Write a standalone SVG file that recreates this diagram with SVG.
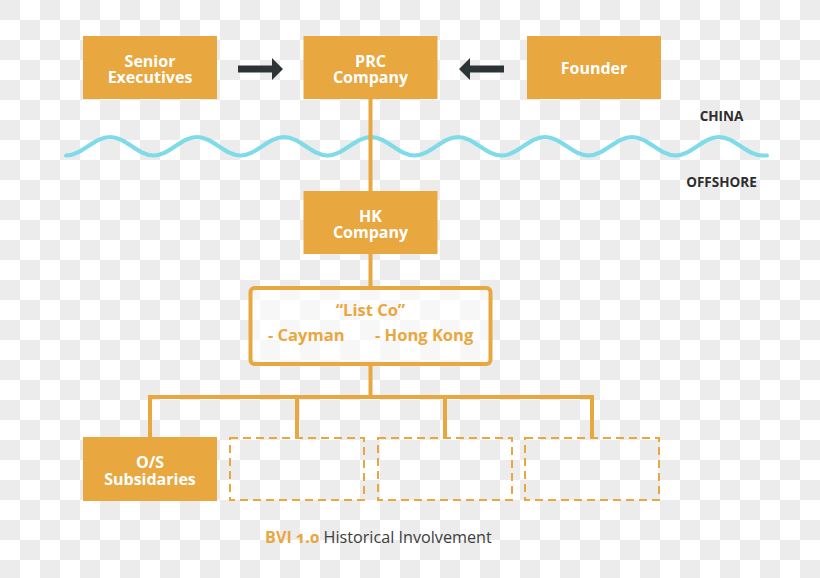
<svg xmlns="http://www.w3.org/2000/svg" width="820" height="578" viewBox="0 0 820 578">
  <defs>
    <pattern id="checker" x="0" y="0" width="40" height="40" patternUnits="userSpaceOnUse">
      <rect width="40" height="40" fill="#ffffff"/>
      <rect x="0" y="0" width="20" height="20" fill="#ececec"/>
      <rect x="20" y="20" width="20" height="20" fill="#ececec"/>
    </pattern>
    <style>
      .box { fill: #e9a73f; }
      .lbl { font-family: "Open Sans", "Noto Sans", "Liberation Sans", sans-serif; font-weight: 700; font-size: 16px; fill: #ffffff; text-anchor: middle; }
      .conn { stroke: #e9a73f; stroke-width: 4; fill: none; }
      .dash { fill: none; stroke: #e9a73f; stroke-width: 2; stroke-dasharray: 8 5; }
      .arrow { fill: #2b3336; }
      .region { font-family: "Open Sans", "Noto Sans", "Liberation Sans", sans-serif; font-weight: 700; font-size: 13.5px; fill: #2e2e2e; text-anchor: middle; }
      .orange { font-family: "Open Sans", "Noto Sans", "Liberation Sans", sans-serif; font-weight: 700; font-size: 16.5px; fill: #e9a73f; }
    </style>
  </defs>

  <rect width="820" height="578" fill="url(#checker)"/>

  <!-- river / border -->
  <path d="M66,155.5 C81.8,155.5 94.2,137 110,137 S137.8,155.5 153.5,155.5 S181.3,137 197,137 S224.8,155.5 240.5,155.5 S268.3,137 284,137 S311.8,155.5 327.5,155.5 S355.3,137 371,137 S398.8,155.5 414.5,155.5 S442.3,137 458,137 S485.8,155.5 501.5,155.5 S529.3,137 545,137 S572.8,155.5 588.5,155.5 S616.3,137 632,137 S659.8,155.5 675.5,155.5 S703.3,137 719,137 S746.8,155.5 762.5,155.5 L767,155.5" fill="none" stroke="#7fdbe8" stroke-width="4" stroke-linecap="round"/>

  <!-- connectors -->
  <g id="connectors">
    <line class="conn" x1="370.5" y1="99" x2="370.5" y2="192"/>
    <line class="conn" x1="370.5" y1="253" x2="370.5" y2="287"/>
    <line class="conn" x1="370.5" y1="365" x2="370.5" y2="397"/>
    <polyline class="conn" points="150,437 150,397 592,397 592,437"/>
    <line class="conn" x1="297" y1="397" x2="297" y2="437"/>
    <line class="conn" x1="445" y1="397" x2="445" y2="437"/>
    <polygon class="arrow" points="238,65.5 272,65.5 272,58 283,69 272,80 272,72.5 238,72.5"/>
    <polygon class="arrow" points="504,65.5 470,65.5 470,58 459,69 470,80 470,72.5 504,72.5"/>
  </g>

  <g id="senior-executives">
    <rect class="box" x="83" y="36" width="134" height="63"/>
    <text class="lbl" x="150" y="66.5">Senior</text>
    <text class="lbl" x="150" y="83">Executives</text>
  </g>

  <g id="prc-company">
    <rect class="box" x="303.5" y="36" width="134" height="63"/>
    <text class="lbl" x="370.5" y="66.5">PRC</text>
    <text class="lbl" x="370.5" y="83">Company</text>
  </g>

  <g id="founder">
    <rect class="box" x="527" y="36" width="134" height="63"/>
    <text class="lbl" x="594" y="74">Founder</text>
  </g>

  <g id="china-label">
    <text class="region" x="721.5" y="121">CHINA</text>
  </g>
  <g id="offshore-label">
    <text class="region" x="721.5" y="187">OFFSHORE</text>
  </g>

  <g id="hk-company">
    <rect class="box" x="303.5" y="191" width="134" height="63"/>
    <text class="lbl" x="370.5" y="221.5">HK</text>
    <text class="lbl" x="370.5" y="238">Company</text>
  </g>

  <g id="list-co">
    <rect x="250.5" y="288" width="240" height="76" rx="4" fill="#ffffff" fill-opacity="0.6" stroke="#e9a73f" stroke-width="4"/>
    <text class="orange" x="370.5" y="316" text-anchor="middle">“List Co”</text>
    <text class="orange" x="268" y="341">- Cayman</text>
    <text class="orange" x="375" y="341">- Hong Kong</text>
  </g>

  <g id="os-subsidiaries">
    <rect class="box" x="83" y="437" width="134" height="64"/>
    <text class="lbl" x="150" y="467.5">O/S</text>
    <text class="lbl" x="150" y="485">Subsidaries</text>
  </g>

  <g id="placeholder-1">
    <rect class="dash" x="230" y="438" width="134" height="62"/>
  </g>
  <g id="placeholder-2">
    <rect class="dash" x="378" y="438" width="134" height="62"/>
  </g>
  <g id="placeholder-3">
    <rect class="dash" x="525" y="438" width="134" height="62"/>
  </g>

  <g id="caption">
    <text x="265" y="543" font-family="Open Sans, Noto Sans, Liberation Sans, sans-serif" font-size="16.2px" style="font-variant-numeric: oldstyle-nums;"><tspan font-weight="700" fill="#e9a73f">BVI 1.0</tspan><tspan fill="#3d3d3d"> Historical Involvement</tspan></text>
  </g>
</svg>
